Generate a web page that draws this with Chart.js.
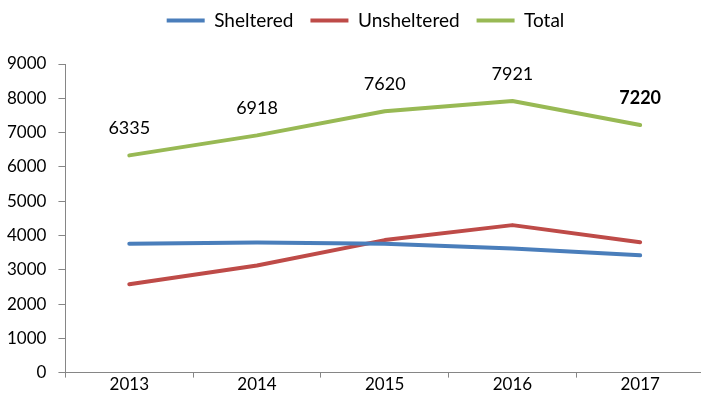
<!DOCTYPE html>
<html>
<head>
<meta charset="utf-8">
<script src="https://cdn.jsdelivr.net/npm/chart.js@4/dist/chart.umd.min.js"></script>
<style>
html,body{margin:0;padding:0;background:#fff;overflow:hidden;width:701px;height:410px;}
#wrap{width:704px;height:410px;}
</style>
</head>
<body>
<div id="wrap"><canvas id="c" width="704" height="410"></canvas></div>
<script>
const years = ["2013", "2014", "2015", "2016", "2017"];
const sheltered = [3760, 3795, 3756, 3620, 3420];
const unsheltered = [2575, 3123, 3864, 4301, 3800];
const total = [6335, 6918, 7620, 7921, 7220];
const yTicks = [0, 1000, 2000, 3000, 4000, 5000, 6000, 7000, 8000, 9000];

const FONT = "Lato, 'Open Sans', sans-serif";
const AXIS = "#868686";

const totalLabels = {
  id: "totalLabels",
  afterDatasetsDraw(chart) {
    const meta = chart.getDatasetMeta(2);
    const ctx = chart.ctx;
    ctx.save();
    ctx.fillStyle = "#000";
    ctx.textAlign = "center";
    ctx.textBaseline = "middle";
    meta.data.forEach((pt, i) => {
      const last = i === total.length - 1;
      ctx.font = (last ? "bold " : "") + "18px " + FONT;
      ctx.fillText(String(total[i]), pt.x, pt.y - 27);
    });
    ctx.restore();
  }
};

// adds extra space below the legend and nudges it right
const legendTweak = {
  id: "legendTweak",
  beforeLayout(chart) {
    const lg = chart.legend;
    if (lg && !lg._tweaked) {
      const f = lg.fit.bind(lg);
      lg.fit = function () { f(); this.height += 24; };
      lg._tweaked = true;
    }
  },
  afterLayout(chart) {
    const lg = chart.legend;
    if (lg) { lg.left += 16; lg.right += 16; }
  }
};

new Chart(document.getElementById("c"), {
  type: "line",
  data: {
    labels: years,
    datasets: [
      { label: "Sheltered", data: sheltered, borderColor: "#4A7EBB", backgroundColor: "#4A7EBB" },
      { label: "Unsheltered", data: unsheltered, borderColor: "#BE4B48", backgroundColor: "#BE4B48" },
      { label: "Total", data: total, borderColor: "#98B954", backgroundColor: "#98B954" }
    ]
  },
  options: {
    responsive: false,
    animation: false,
    devicePixelRatio: 1,
    elements: {
      line: { borderWidth: 4, tension: 0, borderCapStyle: "round", borderJoinStyle: "round" },
      point: { radius: 0, hoverRadius: 0 }
    },
    layout: { padding: { left: -5, right: 0, top: -6, bottom: 18 } },
    plugins: {
      legend: {
        position: "top",
        labels: {
          color: "#000",
          font: { family: FONT, size: 19 },
          boxWidth: 38,
          boxHeight: 4,
          padding: 17,
          generateLabels(chart) {
            return Chart.defaults.plugins.legend.labels.generateLabels(chart).map(l => Object.assign({}, l, { lineWidth: 0, fillStyle: l.strokeStyle }));
          }
        }
      },
      tooltip: { enabled: false }
    },
    scales: {
      x: {
        offset: true,
        grid: { display: true, offset: true, drawOnChartArea: false, drawTicks: true, tickLength: 5, color: AXIS, lineWidth: 1 },
        border: { color: AXIS, width: 1 },
        ticks: { color: "#000", font: { family: FONT, size: 17 }, padding: -3, maxRotation: 0 }
      },
      y: {
        min: 0,
        max: 9000,
        afterBuildTicks(axis) { axis.ticks = yTicks.map(v => ({ value: v })); },
        grid: { display: true, drawOnChartArea: false, drawTicks: true, tickLength: 7, color: AXIS, lineWidth: 1 },
        border: { color: AXIS, width: 1 },
        ticks: { color: "#000", font: { family: FONT, size: 17 }, padding: 12, callback: v => String(v) }
      }
    }
  },
  plugins: [totalLabels, legendTweak]
});
</script>
</body>
</html>
